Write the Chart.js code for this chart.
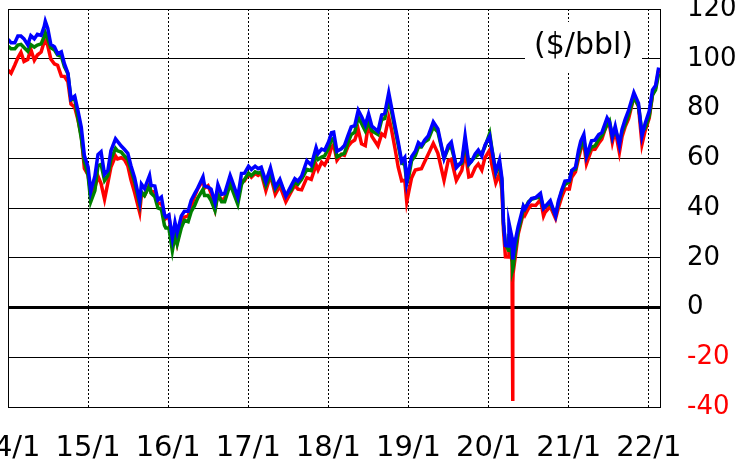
<!DOCTYPE html>
<html><head><meta charset="utf-8">
<script src="https://cdn.jsdelivr.net/npm/chart.js@4.4.1/dist/chart.umd.min.js"></script>
<style>html,body{margin:0;padding:0;background:#fff;overflow:hidden}</style>
</head><body>
<canvas id="c" width="740" height="462"></canvas>
<script>
const dates = [
'2014-01-02','2014-01-15','2014-02-01','2014-02-15','2014-03-01','2014-03-15','2014-04-01','2014-04-15','2014-05-01','2014-05-15','2014-06-01','2014-06-15','2014-06-20','2014-07-01','2014-07-15','2014-08-01','2014-08-15','2014-09-01','2014-09-15','2014-10-01','2014-10-15','2014-11-01','2014-11-15','2014-12-01','2014-12-15',
'2015-01-01','2015-01-13','2015-02-01','2015-02-15','2015-03-01','2015-03-17','2015-04-01','2015-04-15','2015-05-06','2015-05-15','2015-06-01','2015-06-15','2015-07-01','2015-07-15','2015-08-01','2015-08-24','2015-09-01','2015-09-15','2015-10-08','2015-10-15','2015-11-01','2015-11-15','2015-12-01','2015-12-15','2015-12-21',
'2016-01-04','2016-01-20','2016-02-01','2016-02-11','2016-03-01','2016-03-15','2016-04-01','2016-04-15','2016-05-01','2016-05-15','2016-06-08','2016-06-15','2016-07-01','2016-07-15','2016-08-02','2016-08-15','2016-09-01','2016-09-15','2016-10-10','2016-10-15','2016-11-14','2016-12-01','2016-12-15',
'2017-01-02','2017-01-15','2017-02-01','2017-02-15','2017-03-01','2017-03-22','2017-04-12','2017-05-04','2017-05-25','2017-06-21','2017-07-15','2017-08-01','2017-08-15','2017-09-01','2017-09-25','2017-10-15','2017-11-06','2017-11-15','2017-12-01','2017-12-15',
'2018-01-02','2018-01-15','2018-01-25','2018-02-09','2018-03-01','2018-03-15','2018-04-01','2018-04-15','2018-05-01','2018-05-17','2018-06-01','2018-06-18','2018-07-03','2018-07-18','2018-08-15','2018-09-01','2018-09-15','2018-10-03','2018-10-15','2018-11-01','2018-11-15','2018-12-01','2018-12-15','2018-12-24',
'2019-01-02','2019-01-15','2019-02-01','2019-02-15','2019-03-01','2019-03-15','2019-04-01','2019-04-24','2019-05-15','2019-06-12','2019-07-01','2019-07-15','2019-08-07','2019-09-01','2019-09-16','2019-10-03','2019-10-15','2019-11-01','2019-11-15','2019-12-01','2019-12-15',
'2020-01-06','2020-01-15','2020-02-03','2020-02-20','2020-03-02','2020-03-09','2020-03-18','2020-04-01','2020-04-03','2020-04-17','2020-04-20','2020-04-21','2020-04-22','2020-05-01','2020-05-15','2020-06-01','2020-06-08','2020-06-15','2020-07-01','2020-07-15','2020-08-03','2020-08-25','2020-09-08','2020-09-15','2020-10-09','2020-11-02','2020-11-15','2020-12-01','2020-12-15',
'2021-01-04','2021-01-15','2021-02-01','2021-02-15','2021-02-25','2021-03-11','2021-03-23','2021-04-15','2021-05-01','2021-05-18','2021-06-01','2021-06-25','2021-07-06','2021-07-19','2021-08-01','2021-08-20','2021-09-01','2021-09-15','2021-10-01','2021-10-25','2021-11-15','2021-12-01','2021-12-15',
'2022-01-03','2022-01-18','2022-02-01','2022-02-15'
];
const brent = [
107.8,106.4,106.4,109.1,109.1,108.0,105.6,109.3,108.0,109.8,109.4,113.0,115.1,112.3,105.8,104.8,102.0,102.8,98.0,94.2,83.8,85.0,79.4,72.5,61.1,
56.4,46.6,52.9,61.5,62.6,53.5,55.1,63.0,67.8,66.8,64.9,63.6,62.0,57.1,52.2,42.7,49.6,47.8,53.1,49.1,48.8,43.2,44.4,37.4,36.4,
37.2,27.9,34.2,30.1,36.8,38.7,38.7,43.1,45.8,48.0,52.5,48.9,48.4,47.6,42.1,49.4,45.5,45.8,53.1,51.9,44.4,53.9,54.0,
56.8,55.5,56.8,55.8,56.4,50.6,56.2,48.4,51.5,44.8,48.9,51.8,50.8,52.8,59.0,57.2,64.3,61.9,63.7,63.2,
66.6,70.3,70.5,62.8,63.8,65.1,69.3,72.6,73.1,79.3,76.8,73.4,77.8,72.9,70.8,77.4,78.1,86.3,80.8,72.9,66.6,58.7,60.3,50.5,
54.9,60.6,62.8,66.3,65.1,67.2,69.0,74.6,71.8,60.0,65.1,66.5,56.2,58.7,69.0,57.7,58.7,61.7,63.3,60.9,65.2,
68.9,64.0,54.5,59.3,51.9,34.4,24.9,24.7,34.1,28.1,25.6,19.3,20.4,26.4,32.5,38.3,40.8,39.7,42.0,43.8,44.2,45.9,39.8,40.5,42.9,36.8,42.8,47.4,50.8,
51.1,55.1,56.4,63.3,66.9,69.6,60.8,67.0,67.3,69.5,70.3,76.2,74.5,68.6,72.9,65.2,71.6,75.5,79.3,86.4,82.1,68.9,73.9,
79.0,87.5,89.2,96.5
];
const wti = [
95.4,94.2,97.5,100.4,102.6,98.9,99.7,103.8,99.4,101.5,102.7,106.9,107.3,105.3,99.9,97.9,97.4,93.0,92.9,90.7,81.8,80.5,75.8,69.0,55.9,
53.3,45.9,48.2,52.8,49.8,43.5,50.1,56.4,60.9,59.7,60.2,59.5,56.9,51.4,46.2,38.2,45.4,45.0,49.4,46.4,46.6,41.7,41.9,37.4,35.8,
36.8,26.6,31.6,26.2,34.4,36.3,36.8,40.4,44.8,47.7,51.2,48.0,49.0,45.9,39.5,45.7,43.2,43.9,51.4,50.4,43.3,51.1,51.0,
53.7,52.4,53.9,53.1,54.0,47.0,53.1,45.5,48.9,42.5,46.5,49.2,47.6,47.3,52.2,51.5,57.4,55.3,58.4,57.3,
60.4,64.3,65.5,59.2,61.6,61.2,64.9,66.4,67.3,71.5,65.8,65.1,74.1,68.8,65.0,69.8,68.9,76.4,71.8,63.7,56.5,50.9,51.2,42.5,
46.5,52.1,55.3,55.6,55.8,58.5,61.6,66.0,62.0,51.1,59.1,59.6,51.1,55.1,62.9,52.5,52.8,56.2,57.7,55.2,60.1,
63.3,57.8,50.1,53.8,47.0,31.1,20.4,20.3,28.3,18.3,-37.6,10.0,13.8,19.8,29.4,35.4,38.2,37.1,39.8,41.2,41.0,43.4,36.8,38.3,40.6,35.8,40.1,44.6,47.6,
47.6,52.4,54.6,60.0,63.5,66.0,57.8,63.5,63.6,66.0,67.7,74.1,73.4,66.4,71.3,62.3,68.6,72.6,75.9,84.7,80.9,65.6,70.9,
76.1,85.4,88.2,95.5
];
const dubai = [
105.0,104.0,104.0,105.5,105.8,104.5,103.0,105.7,104.7,105.5,106.0,109.0,110.5,108.0,104.5,103.5,101.5,101.0,96.8,94.0,83.5,84.0,76.5,68.0,58.5,
53.0,42.5,47.0,57.0,57.5,51.0,53.0,59.5,64.0,63.0,62.5,61.0,59.5,55.5,50.5,41.5,46.5,45.0,49.0,46.0,44.5,40.0,39.5,33.0,32.0,
32.0,22.8,29.0,25.5,32.0,35.0,34.5,38.5,41.0,44.0,47.5,45.0,45.0,43.0,39.0,45.5,42.5,42.5,49.5,48.5,41.5,49.5,51.5,
54.0,53.0,54.5,54.0,54.5,49.0,53.5,47.5,50.5,45.0,47.0,50.5,49.5,51.5,55.5,55.0,61.0,59.5,60.5,61.0,
64.0,67.5,68.0,60.5,61.5,62.0,66.5,69.5,70.5,76.5,74.0,71.0,74.5,71.0,69.5,75.5,76.0,84.0,79.0,71.5,65.5,58.0,57.5,50.0,
52.5,59.0,61.0,64.5,64.5,66.5,67.5,72.5,70.5,60.0,64.0,64.5,57.0,58.0,66.5,57.5,59.0,60.5,61.5,62.0,64.5,
70.0,64.5,54.0,57.5,51.0,33.5,25.5,23.0,29.5,20.5,18.5,15.5,16.0,22.5,30.5,36.5,40.5,39.5,42.5,43.5,44.0,44.5,40.0,40.5,42.0,37.0,42.0,47.0,49.5,
50.5,55.0,55.5,61.5,64.5,67.5,60.5,64.5,65.0,67.5,69.0,73.5,75.0,68.5,71.5,66.5,70.5,73.5,77.5,84.5,81.0,70.5,72.0,
77.0,85.5,87.5,94.0
];
const xTickYears = [2014,2015,2016,2017,2018,2019,2020,2021,2022];
const xTickLabels = ['14/1','15/1','16/1','17/1','18/1','19/1','20/1','21/1','22/1'];
const yTickValues = [-40,-20,0,20,40,60,80,100,120];
const unitLabel = '($/bbl)';

function toYear(s){
  const p = s.split('-').map(Number);
  const st = Date.UTC(p[0],0,1), en = Date.UTC(p[0]+1,0,1);
  return p[0] + (Date.UTC(p[0],p[1]-1,p[2]) - st) / (en - st);
}
const xs = dates.map(toYear);
const pts = arr => arr.map((v,i) => ({x: xs[i], y: v}));

const overlay = {
  id: 'overlay',
  afterDraw(chart){
    const {ctx, chartArea: a} = chart;
    ctx.save();
    ctx.strokeStyle = '#000'; ctx.lineWidth = 1;
    ctx.beginPath(); ctx.moveTo(a.left + 0.5, a.top); ctx.lineTo(a.left + 0.5, a.bottom); ctx.stroke();
    ctx.beginPath(); ctx.moveTo(a.left, a.top + 0.5); ctx.lineTo(a.right, a.top + 0.5); ctx.stroke();
    const bx = a.left + 517, by = a.top + 13, bw = 117, bh = 50;
    ctx.fillStyle = '#fff';
    ctx.fillRect(bx, by, bw, bh);
    ctx.fillStyle = '#000';
    ctx.font = '30px "DejaVu Sans"';
    ctx.textAlign = 'center'; ctx.textBaseline = 'middle';
    ctx.fillText(unitLabel, bx + bw/2, by + bh/2 - 1);
    ctx.restore();
  }
};

new Chart(document.getElementById('c'), {
  type: 'line',
  data: {
    datasets: [
      {label:'Brent', data: pts(brent), borderColor:'#0000ff', borderWidth:3.5, pointRadius:0, tension:0, fill:false},
      {label:'Dubai', data: pts(dubai), borderColor:'#008000', borderWidth:3.5, pointRadius:0, tension:0, fill:false},
      {label:'WTI', data: pts(wti), borderColor:'#ff0000', borderWidth:3.5, pointRadius:0, tension:0, fill:false}
    ]
  },
  options: {
    responsive: false,
    devicePixelRatio: 1,
    animation: false,
    events: [],
    layout: {padding: {left: 8, top: 9, right: 0, bottom: 0}},
    plugins: {legend: {display: false}, tooltip: {enabled: false}},
    scales: {
      x: {
        type: 'linear', min: 2014, max: 2022.14,
        afterBuildTicks: s => { s.ticks = xTickYears.map(v => ({value: v})); },
        grid: {color: '#000', lineWidth: 1, drawTicks: false},
        border: {display: true, color: '#000', width: 1, dash: [2, 2]},
        ticks: {padding: 24, color: '#000', maxRotation: 0, autoSkip: false,
          font: {family: 'DejaVu Sans', size: 29},
          callback: (v, i) => xTickLabels[i]},
        afterFit: s => { s.height = 55; s.paddingLeft = 0; s.paddingRight = 0; }
      },
      y: {
        type: 'linear', position: 'right', min: -40, max: 120,
        afterBuildTicks: s => { s.ticks = yTickValues.map(v => ({value: v})); },
        grid: {color: '#000', lineWidth: c => (c.tick && c.tick.value === 0) ? 3 : 1, drawTicks: false},
        border: {display: true, color: '#000', width: 1},
        ticks: {padding: 27, font: {family: 'DejaVu Sans', size: 26},
          color: c => (c.tick && c.tick.value < 0) ? '#ff0000' : '#000',
          callback: v => String(v)},
        afterFit: s => { s.width = 80; s.paddingTop = 0; s.paddingBottom = 0; }
      }
    }
  },
  plugins: [overlay]
});
</script>
</body></html>
